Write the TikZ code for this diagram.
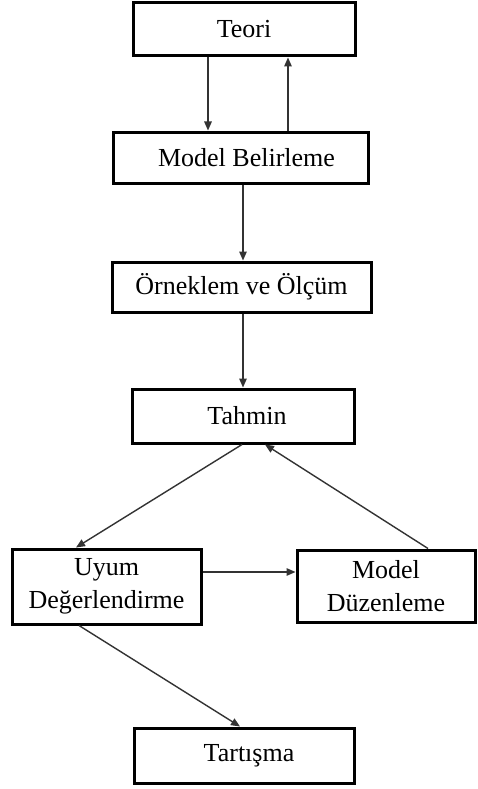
\documentclass[tikz,border=0pt]{standalone}
\usepackage{fontspec}
\setmainfont{Liberation Serif}
\usetikzlibrary{arrows.meta}
\begin{document}
\begin{tikzpicture}[x=1pt,y=-1pt,
  box/.style={draw=black,line width=3pt,fill=white,rectangle,inner sep=0pt,
    font=\fontsize{26}{33}\selectfont,align=center},
  flow/.style={draw=black!80,line width=1.4pt,-{Triangle[length=9pt,width=7.5pt]}}]
\useasboundingbox[fill=white] (0,0) rectangle (477,789);

% process boxes
\node[box,minimum width=222pt,minimum height=53pt] (teori)  at (244,29.5)  {Teori};
\node[box,minimum width=255pt,minimum height=51pt] (model)  at (240.5,157.5) {\hspace*{12pt}Model Belirleme};
\node[box,minimum width=259pt,minimum height=50pt] (olcum)  at (241.5,287) {Örneklem ve Ölçüm};
\node[box,minimum width=222pt,minimum height=54pt] (tahmin) at (243,416)   {\hspace*{8pt}Tahmin};
\node[box,minimum width=189pt,minimum height=75pt] (uyum)   at (106.5,586.5) {Uyum\\Değerlendirme};
\node[box,minimum width=178pt,minimum height=72pt] (duzen)  at (386,586)   {Model\\Düzenleme};
\node[box,minimum width=220pt,minimum height=55pt] (tart)   at (244,755.5) {\hspace*{10pt}Tartışma};

% connectors
\draw[flow] ([xshift=-36pt]teori.south) -- ([xshift=-32.5pt]model.north);
\draw[flow] ([xshift=47.5pt]model.north) -- ([xshift=44pt]teori.south);
\draw[flow] ([xshift=2.5pt]model.south) -- ([xshift=1.5pt]olcum.north);
\draw[flow] ([xshift=1.5pt]olcum.south) -- (tahmin.north);
\draw[flow] ([xshift=-1pt]tahmin.south) -- ([xshift=-30.5pt]uyum.north);
\draw[flow] ([xshift=42pt]duzen.north) -- ([xshift=22pt]tahmin.south);
\draw[flow] ([yshift=14.5pt]uyum.east) -- ([yshift=14pt]duzen.west);
\draw[flow] ([xshift=-27.5pt]uyum.south) -- ([xshift=-4pt]tart.north);
\end{tikzpicture}
\end{document}
